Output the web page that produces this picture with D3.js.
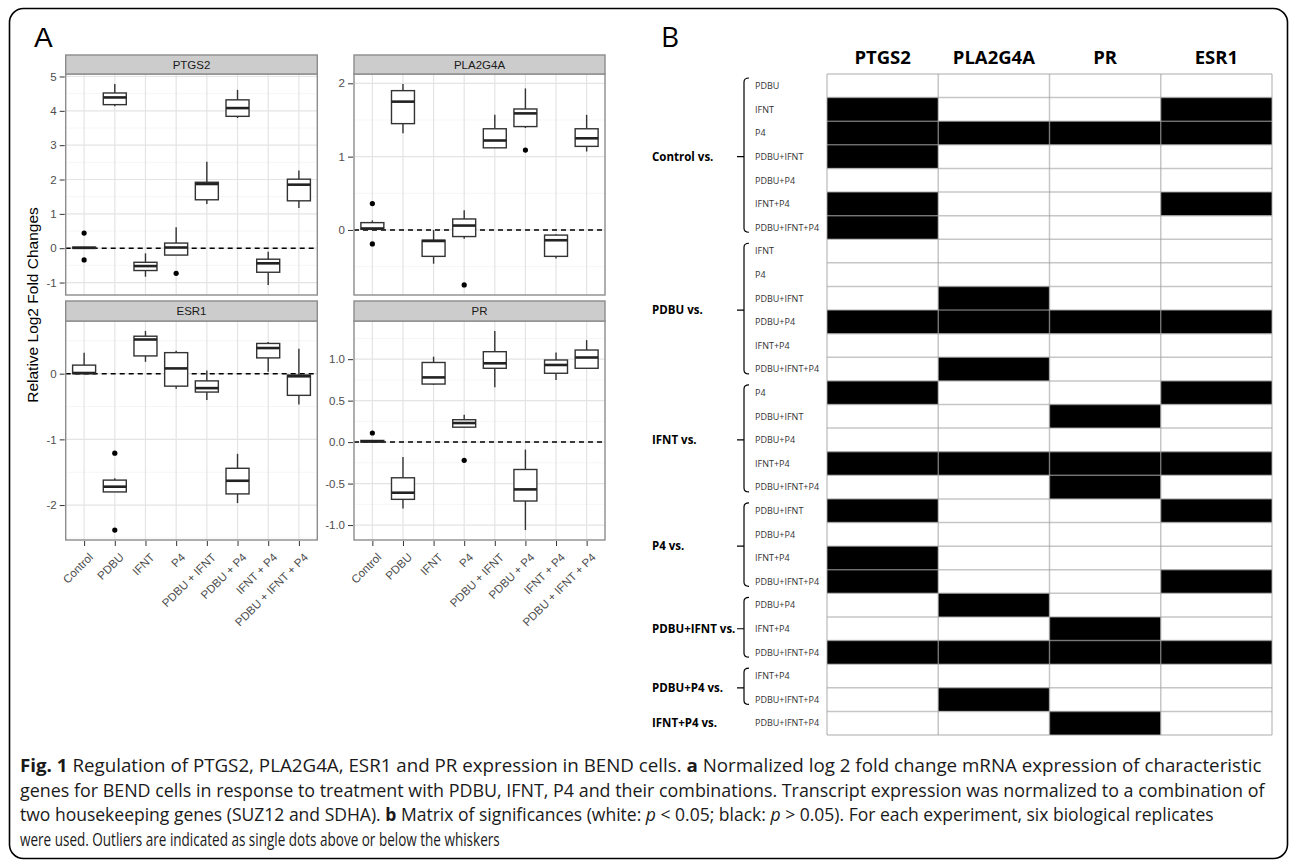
<!DOCTYPE html>
<meta charset="utf-8">
<style>
body { margin: 0; background: #fff; }
svg { font-family: "Liberation Sans", Arial, sans-serif; }
.grid-major line { stroke: #e4e4e4; stroke-width: 1.2px; }
.grid-minor line { stroke: #f6f6f6; stroke-width: 1px; }
.box rect, .box line { stroke: #333; stroke-width: 1.4px; fill: #fff; }
.box .median { stroke: #222; stroke-width: 2.6px; }
.axis text { fill: #4d4d4d; font-size: 11.5px; }
.axis line { stroke: #333; }
.axis path { display: none; }
.mat text { font-family: "Open Sans", "Noto Sans", sans-serif; }
.caption { font-family: "Open Sans", "Noto Sans", sans-serif; font-size: 18px; fill: #1a1a1a; }
</style>
<svg id="fig" width="1292" height="862"></svg>
<script src="https://cdn.jsdelivr.net/npm/d3@7"></script>
<script>
var treatments = ["Control", "PDBU", "IFNT", "P4", "PDBU + IFNT", "PDBU + P4", "IFNT + P4", "PDBU + IFNT + P4"];

// box stats per treatment: [lower whisker, Q1, median, Q3, upper whisker]
var ptgs2Box = [[0.0,0.0,0.01,0.03,0.03],[4.13,4.18,4.39,4.52,4.78],[-0.83,-0.65,-0.52,-0.41,-0.15],[-0.2,-0.2,0.02,0.15,0.61],
                [1.29,1.41,1.87,1.92,2.52],[3.79,3.84,4.08,4.32,4.61],[-1.07,-0.7,-0.44,-0.32,-0.1],[1.17,1.38,1.85,2.01,2.26]];
var ptgs2Out = [[0.44,-0.34],[],[],[-0.73],[],[],[],[]];
var ptgs2Ticks = [-1,0,1,2,3,4,5];

var pla2g4aBox = [[0.01,0.01,0.02,0.1,0.13],[1.32,1.45,1.75,1.9,1.99],[-0.46,-0.36,-0.15,-0.14,0.0],[-0.12,-0.09,0.06,0.15,0.27],
                  [1.12,1.12,1.22,1.38,1.57],[1.39,1.41,1.59,1.65,1.93],[-0.39,-0.36,-0.14,-0.07,-0.06],[1.07,1.14,1.25,1.38,1.57]];
var pla2g4aOut = [[0.36,-0.19],[],[],[-0.75],[],[1.09],[],[]];
var pla2g4aTicks = [0,1,2];

var esr1Box = [[0.0,0.0,0.01,0.13,0.32],[-1.8,-1.8,-1.72,-1.62,-1.59],[0.18,0.27,0.52,0.57,0.65],[-0.23,-0.19,0.08,0.32,0.35],
               [-0.4,-0.28,-0.22,-0.11,0.05],[-1.97,-1.83,-1.63,-1.44,-1.22],[0.03,0.24,0.39,0.46,0.48],[-0.47,-0.33,-0.04,-0.02,0.38]];
var esr1Out = [[],[-1.21,-2.38],[],[],[],[],[],[]];
var esr1Ticks = [-2,-1,0];

var prBox = [[0.0,0.0,0.01,0.02,0.02],[-0.8,-0.69,-0.61,-0.43,-0.18],[0.69,0.7,0.78,0.96,1.03],[0.18,0.18,0.23,0.27,0.33],
             [0.66,0.89,0.95,1.09,1.34],[-1.06,-0.71,-0.57,-0.33,-0.09],[0.75,0.83,0.93,0.99,1.08],[0.89,0.89,1.02,1.11,1.23]];
var prOut = [[0.11],[],[],[-0.22],[],[],[],[]];
var prTicks = [-1,-0.5,0,0.5,1];

// matrix of significances (1 = black, p > 0.05)
var matrixGenes = ["PTGS2", "PLA2G4A", "PR", "ESR1"];
var compGroups = ["Control vs.", "PDBU vs.", "IFNT vs.", "P4 vs.", "PDBU+IFNT vs.", "PDBU+P4 vs.", "IFNT+P4 vs."];
var compRows = [
  ["PDBU","IFNT","P4","PDBU+IFNT","PDBU+P4","IFNT+P4","PDBU+IFNT+P4"],
  ["IFNT","P4","PDBU+IFNT","PDBU+P4","IFNT+P4","PDBU+IFNT+P4"],
  ["P4","PDBU+IFNT","PDBU+P4","IFNT+P4","PDBU+IFNT+P4"],
  ["PDBU+IFNT","PDBU+P4","IFNT+P4","PDBU+IFNT+P4"],
  ["PDBU+P4","IFNT+P4","PDBU+IFNT+P4"],
  ["IFNT+P4","PDBU+IFNT+P4"],
  ["PDBU+IFNT+P4"]
];
var significance = [
  [0,0,0,0],[1,0,0,1],[1,1,1,1],[1,0,0,0],[0,0,0,0],[1,0,0,1],[1,0,0,0],
  [0,0,0,0],[0,0,0,0],[0,1,0,0],[1,1,1,1],[0,0,0,0],[0,1,0,0],
  [1,0,0,1],[0,0,1,0],[0,0,0,0],[1,1,1,1],[0,0,1,0],
  [1,0,0,1],[0,0,0,0],[1,0,0,0],[1,0,0,1],
  [0,1,0,0],[0,0,1,0],[1,1,1,1],
  [0,0,0,0],[0,1,0,0],
  [0,0,1,0]
];

var captionLines = [
  [["Fig. 1","b"],[" Regulation of PTGS2, PLA2G4A, ESR1 and PR expression in BEND cells. ",""],["a","b"],[" Normalized log 2 fold change mRNA expression of characteristic",""]],
  [["genes for BEND cells in response to treatment with PDBU, IFNT, P4 and their combinations. Transcript expression was normalized to a combination of",""]],
  [["two housekeeping genes (SUZ12 and SDHA). ",""],["b","b"],[" Matrix of significances (white: ",""],["p","i"],[" < 0.05; black: ",""],["p","i"],[" > 0.05). For each experiment, six biological replicates",""]],
  [["were used. Outliers are indicated as single dots above or below the whiskers",""]]
];
var captionWidths = [1242, 1245, 1195, 480];

var svg = d3.select("#fig");
var dash = d3.formatLocale({decimal: ".", thousands: ",", grouping: [3], currency: ["", ""], minus: "-"});

svg.append("rect")
    .attr("x", 9.5).attr("y", 8.5).attr("width", 1278).attr("height", 850).attr("rx", 14)
    .attr("fill", "none").attr("stroke", "#000").attr("stroke-width", 1.6);

svg.append("text").attr("x", 34).attr("y", 47).attr("font-size", 28).text("A");
svg.append("text").attr("x", 661).attr("y", 47).attr("font-size", 28)
    .attr("font-family", "'Open Sans', sans-serif").text("B");

// ---------- panel A: faceted boxplots ----------
var cols = [[65.7, 317.3], [354, 605]];
var rows = [[55, 74, 295], [301, 321, 540]];
var panels = [
  {gene: "PTGS2", box: ptgs2Box, out: ptgs2Out, ticks: ptgs2Ticks, fmt: dash.format("d"), c: 0, r: 0},
  {gene: "PLA2G4A", box: pla2g4aBox, out: pla2g4aOut, ticks: pla2g4aTicks, fmt: dash.format("d"), c: 1, r: 0},
  {gene: "ESR1", box: esr1Box, out: esr1Out, ticks: esr1Ticks, fmt: dash.format("d"), c: 0, r: 1},
  {gene: "PR", box: prBox, out: prOut, ticks: prTicks, fmt: dash.format(".1f"), c: 1, r: 1}
];

panels.forEach(function(p) {
  var x0 = cols[p.c][0], x1 = cols[p.c][1];
  var sTop = rows[p.r][0], top = rows[p.r][1], bot = rows[p.r][2];
  var x = d3.scalePoint().domain(treatments).range([x0, x1]).padding(0.6);
  var all = d3.merge(p.box).concat(d3.merge(p.out));
  var ext = d3.extent(all), pad = (ext[1] - ext[0]) * 0.05;
  var y = d3.scaleLinear().domain([ext[0] - pad, ext[1] + pad]).range([bot, top]);
  var step = p.ticks[1] - p.ticks[0];
  var minors = p.ticks.map(function(t){return t - step / 2;}).concat([p.ticks[p.ticks.length - 1] + step / 2])
      .filter(function(v){return v >= y.domain()[0] && v <= y.domain()[1];});
  var g = svg.append("g");

  g.append("g").attr("class", "grid-minor").selectAll("line").data(minors).enter().append("line")
      .attr("x1", x0).attr("x2", x1).attr("y1", function(d){return y(d);}).attr("y2", function(d){return y(d);});
  var gm = g.append("g").attr("class", "grid-major");
  gm.selectAll(".h").data(p.ticks).enter().append("line")
      .attr("x1", x0).attr("x2", x1).attr("y1", function(d){return y(d);}).attr("y2", function(d){return y(d);});
  gm.selectAll(".v").data(treatments).enter().append("line")
      .attr("y1", top).attr("y2", bot).attr("x1", function(d){return x(d);}).attr("x2", function(d){return x(d);});

  g.append("line").attr("x1", x0).attr("x2", x1).attr("y1", y(0)).attr("y2", y(0))
      .attr("stroke", "#000").attr("stroke-width", 1.5).attr("stroke-dasharray", "5,4");

  var bw = x.step() * 0.75;
  var box = g.selectAll(".box").data(p.box).enter().append("g").attr("class", "box")
      .attr("transform", function(d, i){return "translate(" + x(treatments[i]) + ",0)";});
  box.append("line").attr("y1", function(d){return y(d[0]);}).attr("y2", function(d){return y(d[1]);});
  box.append("line").attr("y1", function(d){return y(d[3]);}).attr("y2", function(d){return y(d[4]);});
  box.append("rect").attr("x", -bw / 2).attr("width", bw)
      .attr("y", function(d){return y(d[3]);}).attr("height", function(d){return Math.max(0.5, y(d[1]) - y(d[3]));});
  box.append("line").attr("class", "median").attr("x1", -bw / 2).attr("x2", bw / 2)
      .attr("y1", function(d){return y(d[2]);}).attr("y2", function(d){return y(d[2]);});
  box.each(function(d, i) {
    d3.select(this).selectAll("circle").data(p.out[i]).enter().append("circle")
        .attr("r", 2.6).attr("cy", function(v){return y(v);}).attr("fill", "#000");
  });

  g.append("rect").attr("x", x0).attr("y", top).attr("width", x1 - x0).attr("height", bot - top)
      .attr("fill", "none").attr("stroke", "#8c8c8c").attr("stroke-width", 1.4);
  g.append("rect").attr("x", x0).attr("y", sTop).attr("width", x1 - x0).attr("height", top - sTop)
      .attr("fill", "#cccccc").attr("stroke", "#8c8c8c").attr("stroke-width", 1.4);
  g.append("text").attr("x", (x0 + x1) / 2).attr("y", (sTop + top) / 2 + 4).attr("text-anchor", "middle")
      .attr("font-size", 11.5).attr("fill", "#1a1a1a").text(p.gene);

  g.append("g").attr("class", "axis").attr("transform", "translate(" + (x0 - 1) + ",0)")
      .call(d3.axisLeft(y).tickValues(p.ticks).tickFormat(p.fmt).tickSize(5).tickPadding(3));

  if (p.r === 1) {
    var ax = g.append("g").attr("class", "axis").attr("transform", "translate(0," + (bot + 1) + ")")
        .call(d3.axisBottom(x).tickSize(5));
    ax.selectAll("text")
        .attr("text-anchor", "end").attr("dy", "0.55em").attr("dx", "-0.1em")
        .attr("transform", "translate(0,6) rotate(-45)");
  }
});

svg.append("text").attr("transform", "translate(38,305) rotate(-90)").attr("text-anchor", "middle")
    .attr("font-size", 15.5).attr("fill", "#000").text("Relative Log2 Fold Changes");

// ---------- panel B: significance matrix ----------
var nRows = significance.length;
var xM = d3.scaleBand().domain(matrixGenes).range([827, 1272]);
var yM = d3.scaleBand().domain(d3.range(nRows)).range([74, 735]);
var mat = svg.append("g").attr("class", "mat");

var cells = [];
significance.forEach(function(r, i) { r.forEach(function(v, j) { cells.push({row: i, gene: matrixGenes[j], v: v}); }); });
mat.selectAll(".cell").data(cells).enter().append("rect")
    .attr("x", function(d){return xM(d.gene);}).attr("y", function(d){return yM(d.row);})
    .attr("width", xM.bandwidth()).attr("height", yM.bandwidth())
    .attr("fill", function(d){return d.v ? "#000" : "#fff";});
mat.selectAll(".hl").data(d3.range(nRows + 1)).enter().append("line")
    .attr("x1", 827).attr("x2", 1272)
    .attr("y1", function(d){return 74 + d * yM.step();}).attr("y2", function(d){return 74 + d * yM.step();})
    .attr("stroke", "#a0a0a0").attr("stroke-opacity", 0.6).attr("stroke-width", 1.5);
mat.selectAll(".vl").data(d3.range(matrixGenes.length + 1)).enter().append("line")
    .attr("y1", 74).attr("y2", 735)
    .attr("x1", function(d){return 827 + d * xM.step();}).attr("x2", function(d){return 827 + d * xM.step();})
    .attr("stroke", "#a0a0a0").attr("stroke-opacity", 0.6).attr("stroke-width", 1.5);

mat.selectAll(".hdr").data(matrixGenes).enter().append("text")
    .attr("x", function(d){return xM(d) + xM.bandwidth() / 2;}).attr("y", 64)
    .attr("text-anchor", "middle").attr("font-size", 18.5).attr("font-weight", "bold").attr("fill", "#000")
    .text(function(d){return d;});

var start = 0;
compGroups.forEach(function(name, gi) {
  var labels = compRows[gi], n = labels.length;
  var gTop = yM(start), gBot = yM(start + n - 1) + yM.bandwidth(), mid = (gTop + gBot) / 2;
  labels.forEach(function(l, k) {
    mat.append("text").attr("x", 755).attr("y", yM(start + k) + yM.bandwidth() / 2 + 3.3)
        .attr("font-size", 9).attr("fill", "#333").text(l);
  });
  mat.append("text").attr("x", 652).attr("y", mid + 4).attr("font-size", 11.5).attr("font-weight", "bold")
      .attr("fill", "#000").text(name);
  var t = gTop + 4, b = gBot - 7;
  if (n === 1) return start += n;
  mat.append("path")
      .attr("d", "M749," + t + " Q744," + t + " 744," + (t + 4) + " V" + (b - 4) + " Q744," + b + " 749," + b +
                 " M744," + mid + " H737")
      .attr("fill", "none").attr("stroke", "#000").attr("stroke-width", 1.2);
  start += n;
});

// ---------- caption: each line squeezed horizontally to its width ----------
captionLines.forEach(function(line, i) {
  var lg = svg.append("g");
  var t = lg.append("text").attr("class", "caption");
  line.forEach(function(s) {
    t.append("tspan").attr("font-weight", s[1] === "b" ? "bold" : null)
        .attr("font-style", s[1] === "i" ? "italic" : null).text(s[0]);
  });
  var sx = captionWidths[i] / t.node().getComputedTextLength();
  lg.attr("transform", "translate(20," + (772 + i * 24.5) + ") scale(" + sx + ",1)");
});
</script>
